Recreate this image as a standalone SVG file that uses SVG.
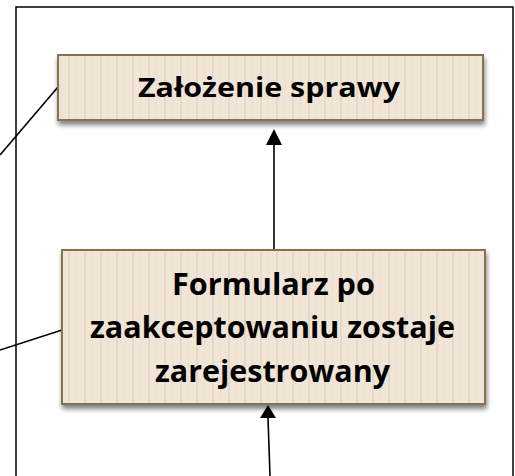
<svg xmlns="http://www.w3.org/2000/svg" width="515" height="476" viewBox="0 0 515 476">
<defs>
<pattern id="stripes" patternUnits="userSpaceOnUse" width="16" height="10">
<rect width="16" height="10" fill="#f1e5d7"/>
<rect x="4" width="2" height="10" fill="#e6d9c7"/>
<rect x="12" width="1" height="10" fill="#ebdfcf"/>
</pattern>
<filter id="sh" x="-10%" y="-20%" width="120%" height="150%">
<feGaussianBlur in="SourceAlpha" stdDeviation="2.5"/>
<feOffset dx="1" dy="4" result="b"/>
<feComponentTransfer><feFuncA type="linear" slope="0.5"/></feComponentTransfer>
<feMerge><feMergeNode/><feMergeNode in="SourceGraphic"/></feMerge>
</filter>
</defs>
<style>
.box{fill:url(#stripes);stroke:#85724f;stroke-width:2;filter:url(#sh)}
.t{font-family:"Open Sans",Lato,sans-serif;font-weight:700;font-size:26px;fill:#000;text-anchor:middle}
.b{font-size:30px}
.c{stroke:#000;stroke-width:1.6;fill:none}
</style>
<rect x="16" y="7" width="497" height="470" fill="none" stroke="#000" stroke-width="1.5"/>
<g id="connectors">
<line class="c" x1="274" y1="249" x2="274" y2="145"/>
<path d="M266,145 L282,145 L274,129 z" fill="#000"/>
<line class="c" x1="270" y1="476" x2="268" y2="418"/>
<path d="M260,418 L276,418 L268,405 z" fill="#000"/>
<line class="c" x1="0" y1="155" x2="58" y2="87"/>
<line class="c" x1="0" y1="350" x2="62" y2="330"/>
</g>
<g id="node1">
<rect class="box" x="58" y="55" width="425" height="65"/>
<text class="t" x="269" y="97" textLength="262" lengthAdjust="spacingAndGlyphs">Założenie sprawy</text>
</g>
<g id="node2">
<rect class="box" x="62" y="250" width="423" height="154"/>
<text class="t b" x="273.5" y="295" textLength="203" lengthAdjust="spacingAndGlyphs">Formularz po</text>
<text class="t b" x="272.5" y="338" textLength="365" lengthAdjust="spacingAndGlyphs">zaakceptowaniu zostaje</text>
<text class="t b" x="272.5" y="382" textLength="235" lengthAdjust="spacingAndGlyphs">zarejestrowany</text>
</g>
</svg>
